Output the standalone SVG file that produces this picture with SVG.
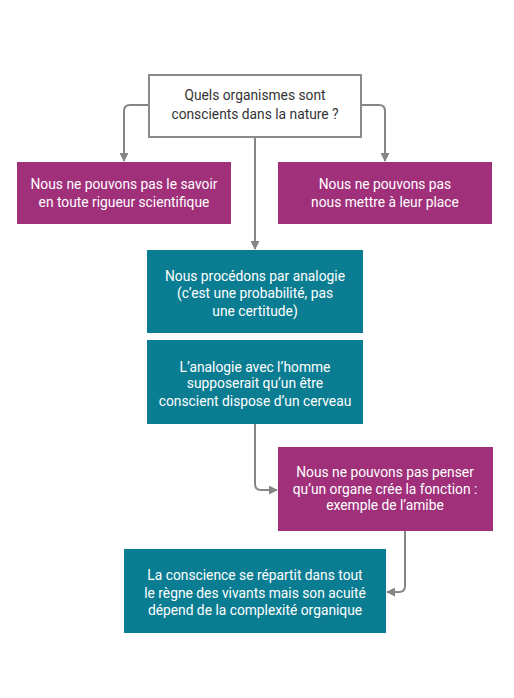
<svg xmlns="http://www.w3.org/2000/svg" width="514" height="698" viewBox="0 0 514 698">
<style>
.t{font-family:Roboto,"Liberation Sans",sans-serif;font-size:13.8px;text-anchor:middle}
.w{fill:#fff}
.d{fill:#333}
.m{fill:#A1307B}
.c{fill:#0B7D92}
.ln{fill:none;stroke:#858585;stroke-width:2}
</style>
<defs>
<marker id="ah" viewBox="0 0 10 10" refX="9" refY="5" markerWidth="4.5" markerHeight="4.5" orient="auto" markerUnits="strokeWidth">
<path d="M0,0L10,5L0,10z" fill="#858585"/>
</marker>
</defs>
<rect width="514" height="698" fill="#fff"/>
<g id="connectors">
<path class="ln" d="M148,105H130Q124,105 124,111V161" marker-end="url(#ah)"/>
<path class="ln" d="M362,105H379Q385,105 385,111V161" marker-end="url(#ah)"/>
<path class="ln" d="M255,138V249" marker-end="url(#ah)"/>
<path class="ln" d="M255,424V484Q255,490 261,490H277" marker-end="url(#ah)"/>
<path class="ln" d="M405,531V586Q405,592 399,592H387" marker-end="url(#ah)"/>
</g>
<g id="q">
<rect x="149" y="75" width="212" height="62" fill="#fff" stroke="#8a8a8a" stroke-width="2"/>
<text class="t d" x="255" y="100">Quels organismes sont</text>
<text class="t d" x="255" y="119">conscients dans la nature ?</text>
</g>
<g id="n1">
<rect class="m" x="17" y="162" width="214" height="62"/>
<text class="t w" x="124" y="189">Nous ne pouvons pas le savoir</text>
<text class="t w" x="124" y="207">en toute rigueur scientifique</text>
</g>
<g id="n2">
<rect class="m" x="278" y="162" width="214" height="62"/>
<text class="t w" x="385" y="189">Nous ne pouvons pas</text>
<text class="t w" x="385" y="207">nous mettre à leur place</text>
</g>
<g id="n3">
<rect class="c" x="147" y="250" width="216" height="83"/>
<text class="t w" x="255" y="281">Nous procédons par analogie</text>
<text class="t w" x="255" y="298">(c’est une probabilité, pas</text>
<text class="t w" x="255" y="316">une certitude)</text>
</g>
<g id="n4">
<rect class="c" x="147" y="340" width="216" height="84"/>
<text class="t w" x="255" y="372">L’analogie avec l’homme</text>
<text class="t w" x="255" y="388">supposerait qu’un être</text>
<text class="t w" x="255" y="406">conscient dispose d’un cerveau</text>
</g>
<g id="n5">
<rect class="m" x="278" y="447" width="215" height="84"/>
<text class="t w" x="385" y="477">Nous ne pouvons pas penser</text>
<text class="t w" x="385" y="494">qu’un organe crée la fonction :</text>
<text class="t w" x="385" y="510">exemple de l’amibe</text>
</g>
<g id="n6">
<rect class="c" x="124" y="549" width="262" height="84"/>
<text class="t w" x="255" y="580">La conscience se répartit dans tout</text>
<text class="t w" x="255" y="598">le règne des vivants mais son acuité</text>
<text class="t w" x="255" y="615">dépend de la complexité organique</text>
</g>
</svg>
